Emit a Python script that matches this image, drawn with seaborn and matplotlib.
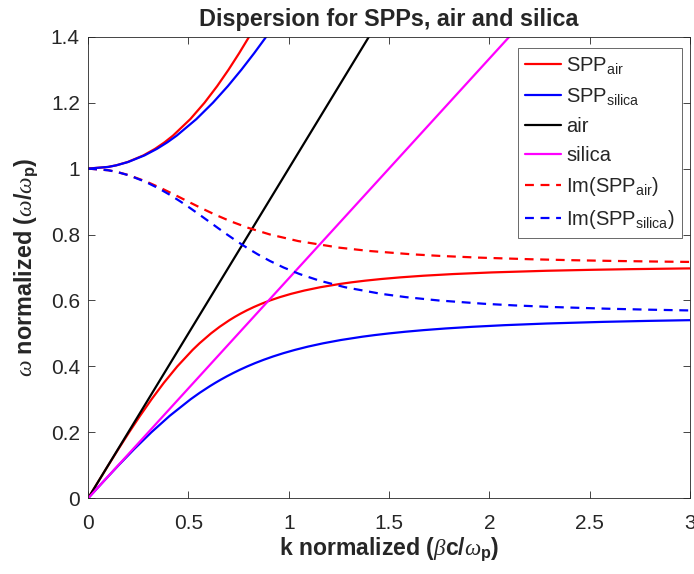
import matplotlib
matplotlib.use("Agg")
import matplotlib.pyplot as plt
import seaborn as sns
import pandas as pd

# ---- data (k normalized, omega normalized) ----
spp_air_low_w = [0, 0.05, 0.1, 0.15, 0.2, 0.25, 0.3, 0.35, 0.4, 0.45, 0.47, 0.5, 0.52, 0.54, 0.55,
                 0.56, 0.57, 0.58, 0.59, 0.6, 0.61, 0.62, 0.63, 0.64, 0.65, 0.655, 0.66, 0.665,
                 0.67, 0.675, 0.68, 0.685, 0.69, 0.693, 0.695, 0.697, 0.698]
spp_air_low_k = [0, 0.0501, 0.1005, 0.1518, 0.2043, 0.2588, 0.3160, 0.3773, 0.4446, 0.5210, 0.5553,
                 0.6124, 0.6555, 0.7040, 0.7309, 0.7599, 0.7914, 0.8260, 0.8643, 0.9071, 0.9557,
                 1.0117, 1.0774, 1.1565, 1.2547, 1.3137, 1.3816, 1.4611, 1.5558, 1.6717, 1.8182,
                 2.0116, 2.2843, 2.5138, 2.7121, 2.967, 3.124]
spp_air_up_w = [1.0, 1.005, 1.01, 1.02, 1.04, 1.06, 1.08, 1.1, 1.15, 1.2, 1.25, 1.3, 1.35, 1.4, 1.45]
spp_air_up_k = [0, 0.0996, 0.1404, 0.1972, 0.2755, 0.3337, 0.3816, 0.4230, 0.5092, 0.5805, 0.6431,
                0.7000, 0.7528, 0.8027, 0.8504]

spp_sil_low_w = [0, 0.05, 0.1, 0.15, 0.2, 0.25, 0.3, 0.32, 0.34, 0.35, 0.36, 0.37, 0.38, 0.39, 0.4,
                 0.41, 0.42, 0.43, 0.44, 0.45, 0.46, 0.47, 0.48, 0.49, 0.495, 0.5, 0.505, 0.51,
                 0.515, 0.52, 0.525, 0.53, 0.535, 0.538, 0.54, 0.541]
spp_sil_low_k = [0, 0.0752, 0.1517, 0.2311, 0.3151, 0.4067, 0.5104, 0.5567, 0.6070, 0.6339, 0.6622,
                 0.6921, 0.7238, 0.7575, 0.7937, 0.8328, 0.8753, 0.9218, 0.9733, 1.0310, 1.0963,
                 1.1717, 1.2603, 1.3670, 1.4296, 1.5, 1.5803, 1.6732, 1.7824, 1.9138, 2.0762,
                 2.2846, 2.5668, 2.7933, 2.9811, 3.0899]
spp_sil_up_w = [1.0, 1.005, 1.01, 1.02, 1.04, 1.06, 1.08, 1.1, 1.15, 1.2, 1.25, 1.3, 1.35, 1.4, 1.45]
spp_sil_up_k = [0, 0.0999, 0.1412, 0.1993, 0.2810, 0.3433, 0.3956, 0.4415, 0.5394, 0.6224, 0.6964,
                0.7642, 0.8277, 0.8879, 0.9456]

air_k = [0, 3]
air_w = [0, 3]
silica_k = [0, 3]
silica_w = [0, 2]

im_air_w = [1.0, 0.995, 0.99, 0.98, 0.96, 0.94, 0.92, 0.9, 0.88, 0.86, 0.84, 0.82, 0.8, 0.78, 0.76,
            0.75, 0.74, 0.735, 0.73, 0.725, 0.722, 0.72, 0.718, 0.717, 0.716]
im_air_k = [0, 0.1004, 0.1425, 0.2032, 0.2927, 0.3661, 0.4332, 0.4982, 0.5642, 0.6340, 0.7108,
            0.7993, 0.9071, 1.0483, 1.2538, 1.4031, 1.6132, 1.7571, 1.9450, 2.2057, 2.4212,
            2.6047, 2.8363, 2.9774, 3.1417]

im_sil_w = [1.0, 0.995, 0.99, 0.98, 0.96, 0.94, 0.92, 0.9, 0.88, 0.86, 0.84, 0.82, 0.8, 0.78, 0.76,
            0.74, 0.72, 0.7, 0.68, 0.66, 0.64, 0.62, 0.61, 0.6, 0.59, 0.585, 0.58, 0.575, 0.572,
            0.57, 0.569]
im_sil_k = [0, 0.1001, 0.1417, 0.2009, 0.2855, 0.3516, 0.4088, 0.4606, 0.5091, 0.5556, 0.6012,
            0.6466, 0.6928, 0.7406, 0.7911, 0.8455, 0.9057, 0.9742, 1.0547, 1.1536, 1.2817,
            1.4614, 1.5847, 1.7463, 1.9718, 2.1244, 2.3202, 2.5848, 2.7962, 2.9706, 3.0713]

x_ticks = [0, 0.5, 1, 1.5, 2, 2.5, 3]
y_ticks = [0, 0.2, 0.4, 0.6, 0.8, 1, 1.2, 1.4]
x_tick_labels = ["0", "0.5", "1", "1.5", "2", "2.5", "3"]
y_tick_labels = ["0", "0.2", "0.4", "0.6", "0.8", "1", "1.2", "1.4"]

# ---- styling ----
sns.set_style("white")
plt.rcParams["font.family"] = ["Liberation Sans", "DejaVu Sans"]
plt.rcParams["mathtext.fontset"] = "custom"
plt.rcParams["mathtext.rm"] = "Liberation Sans"
plt.rcParams["mathtext.it"] = "Liberation Serif:italic"
plt.rcParams["mathtext.bf"] = "Liberation Sans:bold"

fig = plt.figure(figsize=(6.94, 5.74), dpi=100)
ax = fig.add_axes([0.127, 0.132, 0.867, 0.804])

lw = 1.6
def draw(k, w, color, style, label):
    df = pd.DataFrame({"k": k, "w": w})
    sns.lineplot(data=df, x="k", y="w", ax=ax, color=color, linestyle=style, linewidth=lw,
                 sort=False, estimator=None, label=label)

draw(spp_air_low_k, spp_air_low_w, "#ff0000", "-", "SPP$_{\\mathrm{air}}$")
draw(spp_air_up_k, spp_air_up_w, "#ff0000", "-", None)
draw(spp_sil_low_k, spp_sil_low_w, "#0000ff", "-", "SPP$_{\\mathrm{silica}}$")
draw(spp_sil_up_k, spp_sil_up_w, "#0000ff", "-", None)
draw(air_k, air_w, "#000000", "-", "air")
draw(silica_k, silica_w, "#ff00ff", "-", "silica")
draw(im_air_k, im_air_w, "#ff0000", (0, (4, 3)), "Im(SPP$_{\\mathrm{air}}$)")
draw(im_sil_k, im_sil_w, "#0000ff", (0, (4, 3)), "Im(SPP$_{\\mathrm{silica}}$)")

ax.set_xlim(0, 3)
ax.set_ylim(0, 1.4)
ax.set_xticks(x_ticks)
ax.set_xticklabels(x_tick_labels)
ax.set_yticks(y_ticks)
ax.set_yticklabels(y_tick_labels)
ax.tick_params(direction="in", length=5, width=0.6, color="#262626", labelsize=15,
               labelcolor="#262626", top=True, right=True, bottom=True, left=True,
               labeltop=False, labelright=False)
ax.tick_params(axis="x", pad=11)
ax.tick_params(axis="y", pad=6)
for s in ax.spines.values():
    s.set_visible(True)
    s.set_color("#262626")
    s.set_linewidth(0.6)

ax.set_title("Dispersion for SPPs, air and silica", fontsize=16.8, fontweight="bold", pad=8)
ax.set_xlabel(r"k normalized ($\beta$c/$\omega_{\mathbf{p}}$)", fontsize=16.6, fontweight="bold",
              labelpad=2)
ax.set_ylabel(r"$\omega$ normalized ($\omega$/$\omega_{\mathbf{p}}$)", fontsize=16.8,
              fontweight="bold", labelpad=8)

leg = ax.legend(loc="upper right", bbox_to_anchor=(0.987, 0.976), fontsize=14.5, frameon=True,
                fancybox=False, edgecolor="#262626", handlelength=1.8, handletextpad=0.25,
                labelspacing=0.5, borderpad=0.35, borderaxespad=0)
leg.get_frame().set_linewidth(0.6)

fig.savefig("out.png", dpi=100)
